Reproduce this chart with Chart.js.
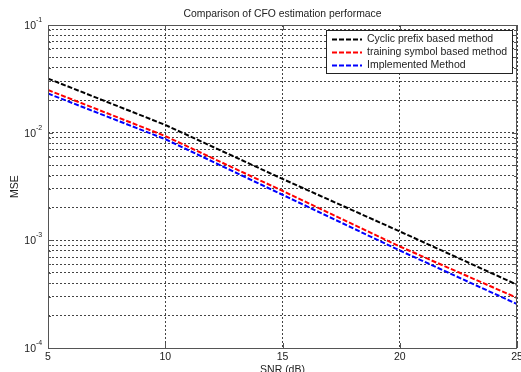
<!DOCTYPE html>
<html>
<head>
<meta charset="utf-8">
<script src="https://cdn.jsdelivr.net/npm/chart.js@4/dist/chart.umd.min.js"></script>
<style>
html,body{margin:0;padding:0;background:#fff;}
canvas{display:block;}
</style>
</head>
<body>
<canvas id="c" width="521" height="372"></canvas>
<script>
const snr = [5, 10, 15, 20, 25];
const cyclicPrefix = [0.0318, 0.0118, 0.00372, 0.00121, 0.000387];
const trainingSymbol = [0.0249, 0.0093, 0.00288, 0.000877, 0.000292];
const implemented = [0.0231, 0.0087, 0.00265, 0.000805, 0.000256];
const seriesNames = ['Cyclic prefix based method', 'training symbol based method', 'Implemented Method'];
const seriesColors = ['#000000', '#ff0000', '#0000ff'];
const xTicks = [5, 10, 15, 20, 25];
const yTicks = [1e-4,2e-4,3e-4,4e-4,5e-4,6e-4,7e-4,8e-4,9e-4,
                1e-3,2e-3,3e-3,4e-3,5e-3,6e-3,7e-3,8e-3,9e-3,
                1e-2,2e-2,3e-2,4e-2,5e-2,6e-2,7e-2,8e-2,9e-2,1e-1];
const yDecades = [1e-4, 1e-3, 1e-2, 1e-1];
const yDecadeExp = ['-4', '-3', '-2', '-1'];
const titleText = 'Comparison of CFO estimation performace';
const xTitle = 'SNR (dB)';
const yTitle = 'MSE';

const FONT = '"Liberation Sans", Arial, sans-serif';
const seriesData = [cyclicPrefix, trainingSymbol, implemented];

const decor = {
  id: 'decor',
  afterDraw(chart) {
    const ctx = chart.ctx;
    const a = chart.chartArea;
    const xs = chart.scales.x, ys = chart.scales.y;
    ctx.save();
    ctx.setLineDash([]);
    // box
    ctx.strokeStyle = '#555';
    ctx.lineWidth = 1;
    ctx.strokeRect(Math.round(a.left) + 0.5, Math.round(a.top) + 0.5,
      Math.round(a.right - a.left) - 1, Math.round(a.bottom - a.top));
    // tick marks (inside)
    ctx.beginPath();
    yTicks.forEach(v => {
      const y = Math.round(ys.getPixelForValue(v)) + 0.5;
      const len = yDecades.includes(v) ? 5 : 3;
      ctx.moveTo(a.left, y); ctx.lineTo(a.left + len, y);
      ctx.moveTo(a.right, y); ctx.lineTo(a.right - len, y);
    });
    xTicks.forEach(v => {
      const x = Math.round(xs.getPixelForValue(v)) + 0.5;
      ctx.moveTo(x, a.bottom); ctx.lineTo(x, a.bottom - 5);
      ctx.moveTo(x, a.top); ctx.lineTo(x, a.top + 5);
    });
    ctx.stroke();

    ctx.fillStyle = '#222';
    // title
    ctx.font = '10.4px ' + FONT;
    ctx.textAlign = 'center';
    ctx.textBaseline = 'middle';
    ctx.fillText(titleText, (a.left + a.right) / 2, 14);
    // x tick labels
    ctx.font = '10.5px ' + FONT;
    ctx.textBaseline = 'top';
    xTicks.forEach(v => {
      ctx.fillText(String(v), xs.getPixelForValue(v), a.bottom + 4);
    });
    // x title
    ctx.fillText(xTitle, (a.left + a.right) / 2, 365);
    // y tick labels
    yDecades.forEach((v, i) => {
      const y = ys.getPixelForValue(v);
      ctx.font = '10.5px ' + FONT;
      ctx.textAlign = 'right';
      ctx.textBaseline = 'middle';
      ctx.fillText('10', 36, y + 1);
      ctx.font = '7px ' + FONT;
      ctx.textAlign = 'left';
      ctx.fillText(yDecadeExp[i], 36, y - 5);
    });
    // y title
    ctx.save();
    ctx.translate(15, (a.top + a.bottom) / 2);
    ctx.rotate(-Math.PI / 2);
    ctx.font = '10.5px ' + FONT;
    ctx.textAlign = 'center';
    ctx.textBaseline = 'middle';
    ctx.fillText(yTitle, 0, 0);
    ctx.restore();

    // legend
    const lx = 326, ly = 30, lw = 186, lh = 43;
    ctx.fillStyle = '#fff';
    ctx.fillRect(lx, ly, lw, lh);
    ctx.strokeStyle = '#222';
    ctx.lineWidth = 1;
    ctx.strokeRect(lx + 0.5, ly + 0.5, lw, lh);
    chart.data.datasets.forEach((ds, i) => {
      const y = ly + 9.5 + i * 13;
      ctx.strokeStyle = ds.borderColor;
      ctx.lineWidth = 2;
      ctx.setLineDash([5, 2]);
      ctx.beginPath();
      ctx.moveTo(332, y); ctx.lineTo(362, y);
      ctx.stroke();
      ctx.setLineDash([]);
      ctx.fillStyle = '#222';
      ctx.font = '10.5px ' + FONT;
      ctx.textAlign = 'left';
      ctx.textBaseline = 'middle';
      ctx.fillText(ds.label, 367, y);
    });
    ctx.restore();
  }
};

new Chart(document.getElementById('c'), {
  type: 'line',
  data: {
    datasets: seriesNames.map((n, i) => ({
      label: n,
      data: snr.map((x, j) => ({ x: x, y: seriesData[i][j] })),
      borderColor: seriesColors[i],
      backgroundColor: seriesColors[i],
      borderWidth: 2,
      borderDash: [5, 2],
      pointRadius: 0,
      fill: false,
      tension: 0
    }))
  },
  options: {
    responsive: false,
    animation: false,
    devicePixelRatio: 1,
    layout: { padding: { left: 48, top: 25, right: 4, bottom: 24 } },
    plugins: { legend: { display: false }, tooltip: { enabled: false }, title: { display: false } },
    scales: {
      x: {
        type: 'linear', min: 5, max: 25,
        afterBuildTicks: s => { s.ticks = xTicks.map(v => ({ value: v })); },
        afterFit: s => { s.height = 0; },
        ticks: { display: false },
        border: { display: false, dash: [2, 2] },
        grid: { color: '#444', lineWidth: 1, tickLength: 0, drawTicks: false },
      },
      y: {
        type: 'logarithmic', min: 1e-4, max: 1e-1,
        afterBuildTicks: s => { s.ticks = yTicks.map(v => ({ value: v })); },
        afterFit: s => { s.width = 0; },
        ticks: { display: false },
        border: { display: false, dash: [2, 2] },
        grid: { color: '#444', lineWidth: 1, tickLength: 0, drawTicks: false },
      }
    }
  },
  plugins: [decor]
});
</script>
</body>
</html>
